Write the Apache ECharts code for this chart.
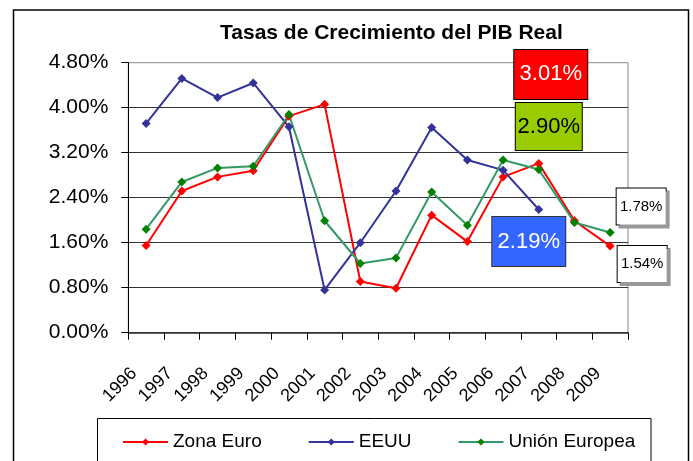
<!DOCTYPE html>
<html><head><meta charset="utf-8">
<script src="https://cdn.jsdelivr.net/npm/echarts@6/dist/echarts.min.js"></script>
<style>html,body{margin:0;padding:0;background:#fff}#c{width:693px;height:461px}</style>
</head><body><div id="c"></div>
<script>
// ---- data ----
const years = ['1996','1997','1998','1999','2000','2001','2002','2003','2004','2005','2006','2007','2008','2009'];
const zonaEuro = [1.55,2.52,2.77,2.88,3.85,4.06,0.91,0.79,2.09,1.62,2.77,3.01,1.99,1.54];
const eeuu = [3.72,4.52,4.18,4.44,3.66,0.76,1.60,2.52,3.65,3.07,2.89,2.19,null,null];
const unionEuropea = [1.84,2.68,2.93,2.96,3.88,1.99,1.23,1.33,2.50,1.91,3.07,2.90,1.96,1.78];
const yMin = 0, yMax = 4.8, yStep = 0.8;
const seriesNames = ['Zona Euro','EEUU','Unión Europea'];
const titleText = 'Tasas de Crecimiento del PIB Real';

// ---- styling ----
const FONT = 'Arial, "Liberation Sans", sans-serif';
const pct = p => Number(p.value).toFixed(2) + '%';
const bigBox = {show:true, position:'inside', align:'center', verticalAlign:'middle',
  fontFamily:FONT, fontSize:22, formatter:pct, height:49, lineHeight:49, borderWidth:1, borderColor:'#000', padding:0};
const smallBox = {show:true, position:'inside', align:'center', verticalAlign:'middle',
  fontFamily:FONT, fontSize:15, formatter:pct, width:49, height:36, lineHeight:36, borderWidth:1, borderColor:'#000',
  backgroundColor:'#fff', color:'#000', padding:0, shadowColor:'#999', shadowOffsetX:3, shadowOffsetY:3, shadowBlur:0};
const annotations = {
  'Zona Euro': {'2007': Object.assign({}, bigBox, {width:73, offset:[12,-89], backgroundColor:'#FF0000', color:'#fff'}),
                '2009': Object.assign({}, smallBox, {offset:[32,18]})},
  'EEUU': {'2007': Object.assign({}, bigBox, {width:73, offset:[-10,32], backgroundColor:'#3366FF', color:'#fff', borderColor:'#333'})},
  'Unión Europea': {'2007': Object.assign({}, bigBox, {width:66, height:47, lineHeight:47, offset:[10,-43], backgroundColor:'#99CC00', color:'#000'}),
                    '2009': Object.assign({}, smallBox, {offset:[31,-26]})}
};
function build(name, values) {
  const ann = annotations[name] || {};
  return values.map((v, i) => ann[years[i]] ? {value: v, label: ann[years[i]]} : v);
}
const lineColors = {'Zona Euro':'#FF0000','EEUU':'#333399','Unión Europea':'#339966'};
const markColors = {'Zona Euro':'#FF0000','EEUU':'#333399','Unión Europea':'#008000'};
const allValues = {'Zona Euro':zonaEuro,'EEUU':eeuu,'Unión Europea':unionEuropea};

const chart = echarts.init(document.getElementById('c'));
chart.setOption({
  backgroundColor:'#fff',
  animation:false,
  title:{text:titleText, left:215, top:16, textStyle:{fontFamily:FONT, fontSize:21, fontWeight:'bold', color:'#000', lineHeight:24}},
  grid:{left:128.3, right:65, top:62.7, bottom:128.3, show:true, borderColor:'#888', borderWidth:1, containLabel:false},
  xAxis:{type:'category', data:years, boundaryGap:true,
    axisLine:{lineStyle:{color:'#333', width:1.5}},
    axisTick:{show:true, length:7, lineStyle:{color:'#000'}},
    axisLabel:{rotate:45, interval:0, fontFamily:FONT, fontSize:18, color:'#000', margin:26, padding:[0,17,0,0]},
    splitLine:{show:false}},
  yAxis:{type:'value', min:yMin, max:yMax, interval:yStep,
    axisLine:{show:true, lineStyle:{color:'#000', width:1}},
    axisTick:{show:true, length:7, lineStyle:{color:'#000'}},
    axisLabel:{fontFamily:FONT, fontSize:21, color:'#000', margin:20, formatter:v => v.toFixed(2)+'%'},
    splitLine:{show:true, showMaxLine:false, lineStyle:{color:'#333', width:1}}},
  legend:{data:seriesNames, left:122, top:432, padding:0, itemWidth:45, itemHeight:9, itemGap:46,
    textStyle:{fontFamily:FONT, fontSize:19, color:'#000', lineHeight:20}},
  graphic:[
    {type:'rect', z:0, shape:{x:97.5, y:418.5, width:553.5, height:70}, style:{fill:'#fff', stroke:'#000', lineWidth:1}},
    {type:'rect', z:0, shape:{x:13.5, y:10, width:675, height:480}, style:{fill:null, stroke:'#000', lineWidth:1.5}}
  ],
  series: seriesNames.map(n => ({
    name:n, type:'line', data:build(n, allValues[n]), symbol:'diamond', symbolSize:9, showAllSymbol:true,
    lineStyle:{color:lineColors[n], width:2}, itemStyle:{color:markColors[n]}, connectNulls:false,
    label:{show:false}, emphasis:{disabled:true}
  }))
});
</script></body></html>
